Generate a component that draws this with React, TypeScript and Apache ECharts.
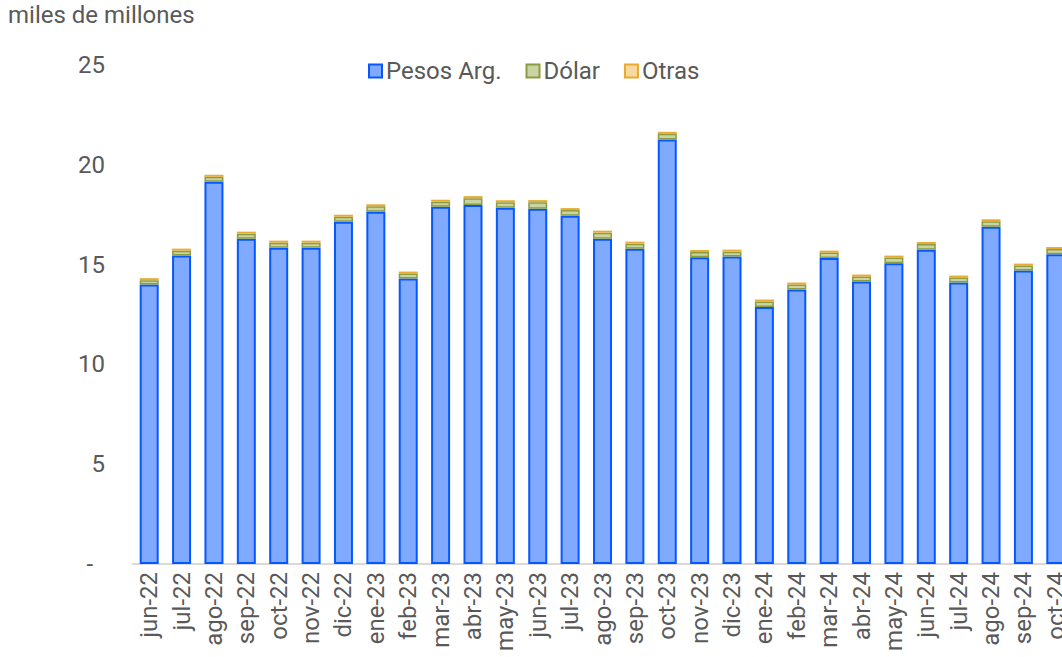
import React, { useEffect, useRef } from "react";
import * as echarts from "echarts";

const categories = [
  "jun-22", "jul-22", "ago-22", "sep-22", "oct-22", "nov-22", "dic-22",
  "ene-23", "feb-23", "mar-23", "abr-23", "may-23", "jun-23", "jul-23",
  "ago-23", "sep-23", "oct-23", "nov-23", "dic-23",
  "ene-24", "feb-24", "mar-24", "abr-24", "may-24", "jun-24", "jul-24",
  "ago-24", "sep-24", "oct-24",
];

const pesos = [
  14.0, 15.45, 19.15, 16.3, 15.85, 15.85, 17.15,
  17.65, 14.3, 17.9, 17.98, 17.85, 17.8, 17.45,
  16.3, 15.8, 21.27, 15.37, 15.4,
  12.87, 13.75, 15.33, 14.15, 15.07, 15.75, 14.1,
  16.9, 14.7, 15.52,
];

const dolar = [
  0.22, 0.25, 0.25, 0.25, 0.25, 0.25, 0.25,
  0.27, 0.25, 0.25, 0.35, 0.28, 0.33, 0.28,
  0.3, 0.25, 0.28, 0.26, 0.25,
  0.28, 0.25, 0.27, 0.25, 0.28, 0.28, 0.25,
  0.27, 0.25, 0.26,
];

const otras = [
  0.1, 0.1, 0.1, 0.1, 0.1, 0.1, 0.1,
  0.1, 0.1, 0.1, 0.1, 0.1, 0.1, 0.1,
  0.1, 0.1, 0.1, 0.1, 0.1,
  0.1, 0.1, 0.1, 0.1, 0.1, 0.1, 0.1,
  0.1, 0.1, 0.1,
];

const FONT = "Roboto";
const TEXT = "#595959";

export default function App() {
  const ref = useRef<HTMLDivElement>(null);

  useEffect(() => {
    document.body.style.overflow = "hidden";
    if (!ref.current) return;
    const chart = echarts.init(ref.current, null, { renderer: "svg" });
    const barW = 19;
    chart.setOption({
      animation: false,
      backgroundColor: "#ffffff",
      textStyle: { fontFamily: FONT },
      title: {
        text: "miles de millones",
        left: 8,
        top: 3,
        padding: 0,
        textStyle: { fontFamily: FONT, fontSize: 24, fontWeight: "normal", color: TEXT },
      },
      legend: {
        left: 368,
        top: 59,
        padding: 0,
        itemWidth: 13,
        itemHeight: 13,
        itemGap: 24,
        icon: "rect",
        textStyle: { fontFamily: FONT, fontSize: 24, color: TEXT, padding: [0, 0, 0, -1] },
        data: ["Pesos Arg.", "Dólar", "Otras"],
      },
      grid: { left: 133, right: 0, top: 65, bottom: 93, containLabel: false },
      xAxis: {
        type: "category",
        data: categories,
        axisLine: { show: true, lineStyle: { color: "#d9d9d9", width: 2 } },
        axisTick: { show: false },
        axisLabel: {
          rotate: 90,
          interval: 0,
          margin: 8,
          fontFamily: FONT,
          fontSize: 24,
          color: TEXT,
        },
      },
      yAxis: {
        type: "value",
        min: 0,
        max: 25,
        interval: 5,
        splitLine: { show: false },
        axisLine: { show: false },
        axisTick: { show: false },
        axisLabel: {
          margin: 28,
          fontFamily: FONT,
          fontSize: 24,
          color: TEXT,
          formatter: (v: number) => (v === 0 ? "-  " : String(v)),
        },
      },
      series: [
        {
          name: "Pesos Arg.",
          type: "bar",
          stack: "t",
          barWidth: barW,
          data: pesos,
          itemStyle: { color: "#80aaff", borderColor: "#0558ff", borderWidth: 2 },
        },
        {
          name: "Dólar",
          type: "bar",
          stack: "t",
          barWidth: barW,
          data: dolar,
          itemStyle: { color: "#c9d4a3", borderColor: "#8c9c40", borderWidth: 1.5 },
        },
        {
          name: "Otras",
          type: "bar",
          stack: "t",
          barWidth: barW,
          data: otras,
          itemStyle: { color: "#f7d89e", borderColor: "#e8aa32", borderWidth: 1.5 },
        },
      ],
    });
    return () => chart.dispose();
  }, []);

  return (
    <div
      ref={ref}
      style={{ position: "fixed", left: 0, top: 0, width: 1072, height: 657 }}
    />
  );
}
